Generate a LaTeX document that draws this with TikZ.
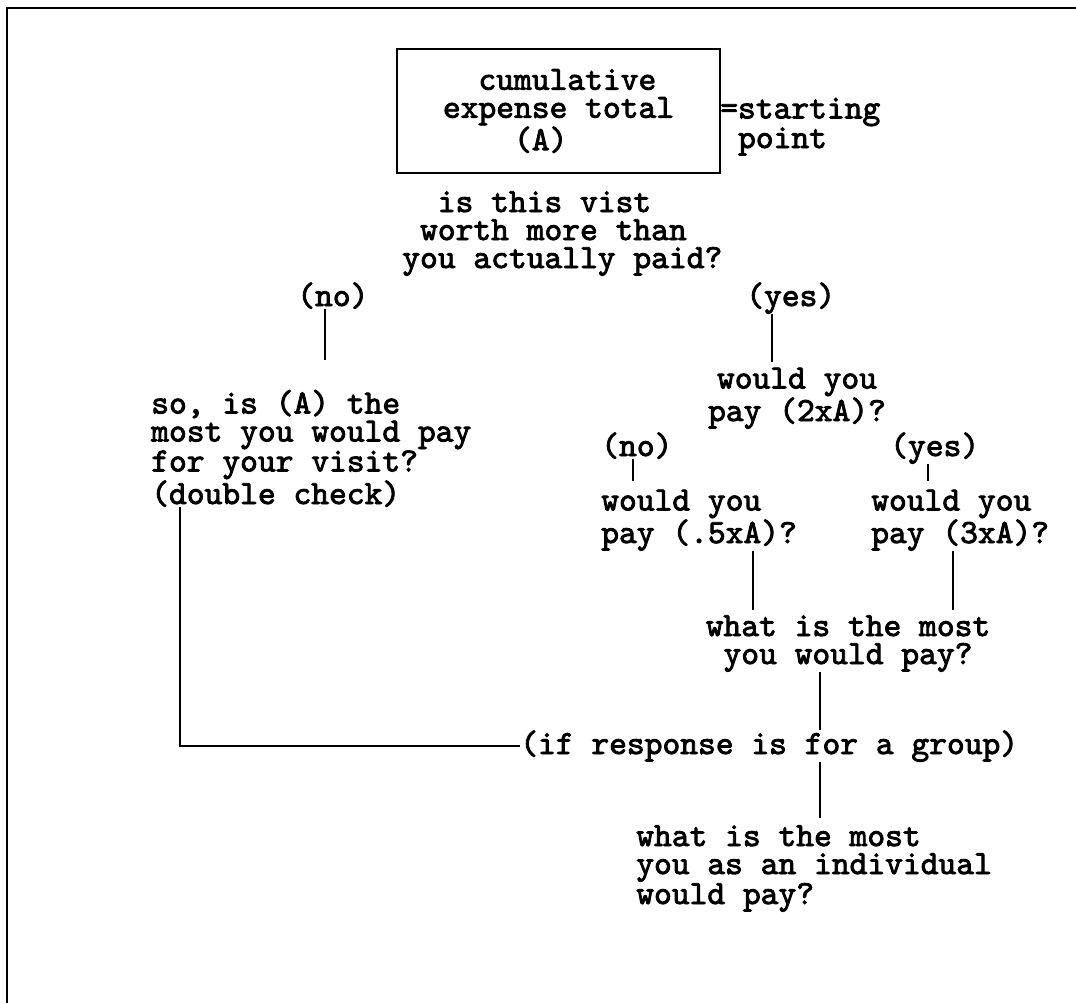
\documentclass[tikz,border=0pt]{standalone}
\usepackage{fontspec}
\newfontfamily\typew{lmmono10-regular.otf}[FakeBold=2.5]
\usetikzlibrary{positioning}

\begin{document}
\begin{tikzpicture}[x=0.75pt, y=-0.75pt,
    txt/.style={font=\fontsize{25.4}{21}\selectfont\typew\bfseries, inner sep=0pt, align=left},
    link/.style={line width=1.4pt}]

    \useasboundingbox (0,0) rectangle (1076,1003);

    % Page frame
    \draw[line width=2.2pt] (1076,8) -- (7,8) -- (7,1003);

    % Starting point
    \node[txt, draw, line width=1.5pt, minimum width=242pt, minimum height=93pt]
          (start) at (558.5,111) {\phantom{xx}cumulative\\expense total\\\phantom{xxxx}(A)};
    \node[txt, anchor=base west] (startpt) at (720,148) {=starting\\\phantom{x}point};

    % First question
    \node[txt, anchor=base west] (q1) at (402,268) {\phantom{xx}is this vist\\\phantom{x}worth more than\\you actually paid?};
    \node[txt, anchor=base west] (no1) at (297,306) {(no)};
    \node[txt, anchor=base west] (yes1) at (746,306) {(yes)};

    % No branch
    \node[txt, anchor=base west] (ans1) at (151,504) {so, is (A) the\\most you would pay\\for your visit?\\(double check)};

    % Yes branch
    \node[txt, align=center, anchor=base] (q2) at (797,421) {would you\\pay (2xA)?};
    \node[txt, anchor=base west] (no2) at (601,456) {(no)};
    \node[txt, anchor=base west] (yes2) at (890,456) {(yes)};
    \node[txt, anchor=base west] (q3) at (601,543) {would you\\pay (.5xA)?};
    \node[txt, anchor=base west] (q4) at (871,543) {would you\\pay (3xA)?};
    \node[txt, align=center, anchor=base] (q5) at (848,664) {what is the most\\you would pay?};

    % Group response
    \node[txt, anchor=base west] (grp) at (520,754) {(if response is for a group)};
    \node[txt, anchor=base west] (q6) at (636,904) {what is the most\\you as an individual\\would pay?};

    % Connectors
    \draw[link, shorten >=22pt] (no1.south -| 325,0) -- (ans1.north -| 325,0);
    \draw[link, shorten >=4pt] (yes1.south -| 772,0) -- (q2.north -| 772,0);
    \draw[link, shorten >=6pt] (no2.south -| 633,0) -- (q3.north -| 633,0);
    \draw[link, shorten >=6pt] (yes2.south -| 928,0) -- (q4.north -| 928,0);
    \draw[link, shorten >=4pt] (q3.south -| 753,0) -- (q5.north -| 753,0);
    \draw[link, shorten >=4pt] (q4.south -| 953,0) -- (q5.north -| 953,0);
    \draw[link] (q5.south -| 820,0) -- (grp.north -| 820,0);
    \draw[link, shorten >=5pt] (grp.south -| 820,0) -- (q6.north -| 820,0);
    \draw[link] (ans1.south -| 180,0) |- (grp.west);

\end{tikzpicture}
\end{document}
